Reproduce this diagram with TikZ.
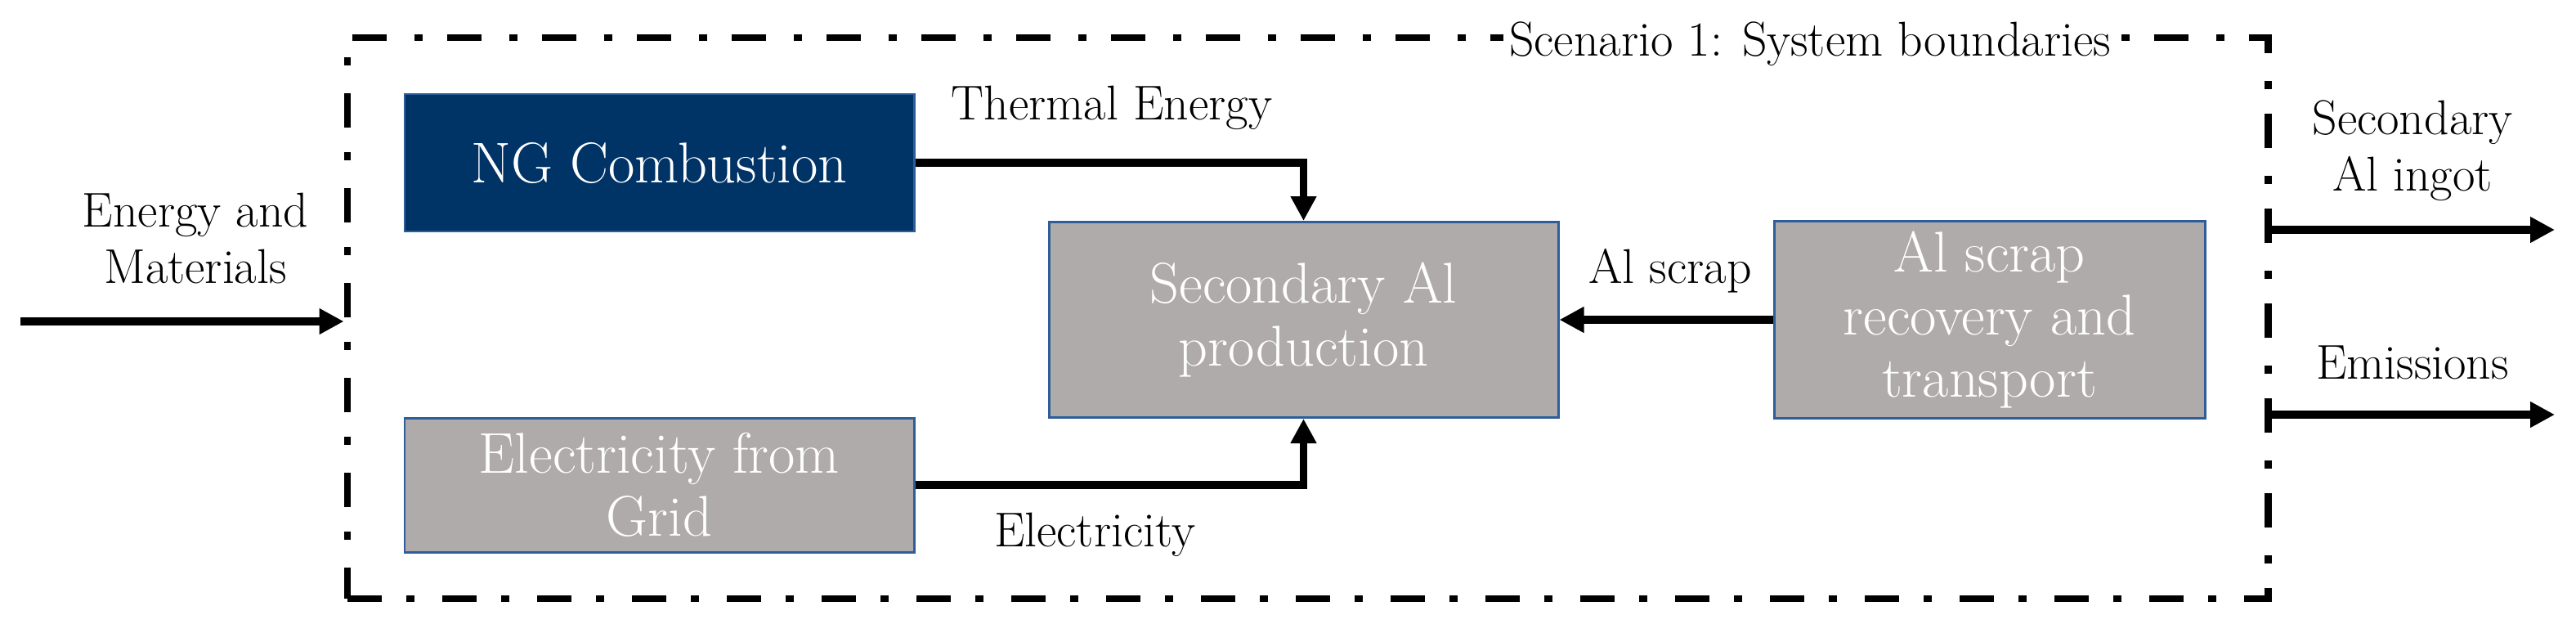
\documentclass[tikz,border=0pt]{standalone}
\usetikzlibrary{arrows.meta}
\definecolor{navyfill}{RGB}{0,51,102}
\definecolor{boxgray}{RGB}{175,171,171}
\definecolor{edgeblue}{RGB}{46,94,154}
\tikzset{
  procbox/.style={draw=edgeblue, line width=0.85pt, fill=boxgray, text=white,
    minimum width=6.23cm, align=center, font=\fontsize{20}{21.8}\selectfont},
  navybox/.style={procbox, fill=navyfill},
  lbl/.style={align=center, font=\fontsize{17}{19.6}\selectfont},
  flow/.style={line width=2.8pt, -{Triangle[length=0.3cm,width=0.3cm]}},
  boundary/.style={draw, line width=2.55pt,
    dash pattern=on 0.42cm off 0.3cm on 0.1cm off 0.34cm}
}
\begin{document}
\begin{tikzpicture}
      \useasboundingbox (0,0) rectangle (31.51,7.84);
      \draw
        (15.995,3.95) node[boundary, minimum width=23.49cm, minimum height=6.86cm] (sys){}
        (22.14,7.305) node[lbl, fill=white, inner sep=2pt] (scen){Scenario 1: System boundaries}
        (8.065,5.85) node[navybox, minimum height=1.68cm] (ng){NG Combustion}
        (8.065,1.91) node[procbox, minimum height=1.64cm] (grid){Electricity from\\Grid}
        (15.945,3.93) node[procbox, minimum height=2.39cm] (prod){Secondary Al\\production}
        (24.335,3.93) node[procbox, minimum width=5.27cm, minimum height=2.38cm] (scrap){Al scrap\\recovery and\\transport}
        (2.39,4.925) node[lbl] (inlbl){Energy and\\Materials}
        (13.6,6.525) node[lbl] (thlbl){Thermal Energy}
        (13.39,1.305) node[lbl] (ellbl){Electricity}
        (20.43,4.525) node[lbl] (sclbl){Al scrap}
        (29.51,5.995) node[lbl] (inglbl){Secondary\\Al ingot}
        (29.51,3.405) node[lbl] (emlbl){Emissions};
      \coordinate (in) at (0.25,3.91);
      \coordinate (ingot) at (31.25,5.03);
      \coordinate (emis) at (31.25,2.77);
      \begin{scope}[flow]
        \draw (ng) -| (prod);
        \draw (grid) -| (prod);
        \draw (scrap) -- (prod);
        \draw (in) -- (in -| sys.west);
        \draw (ingot -| sys.east) -- (ingot);
        \draw (emis -| sys.east) -- (emis);
      \end{scope}
    \end{tikzpicture}
\end{document}
